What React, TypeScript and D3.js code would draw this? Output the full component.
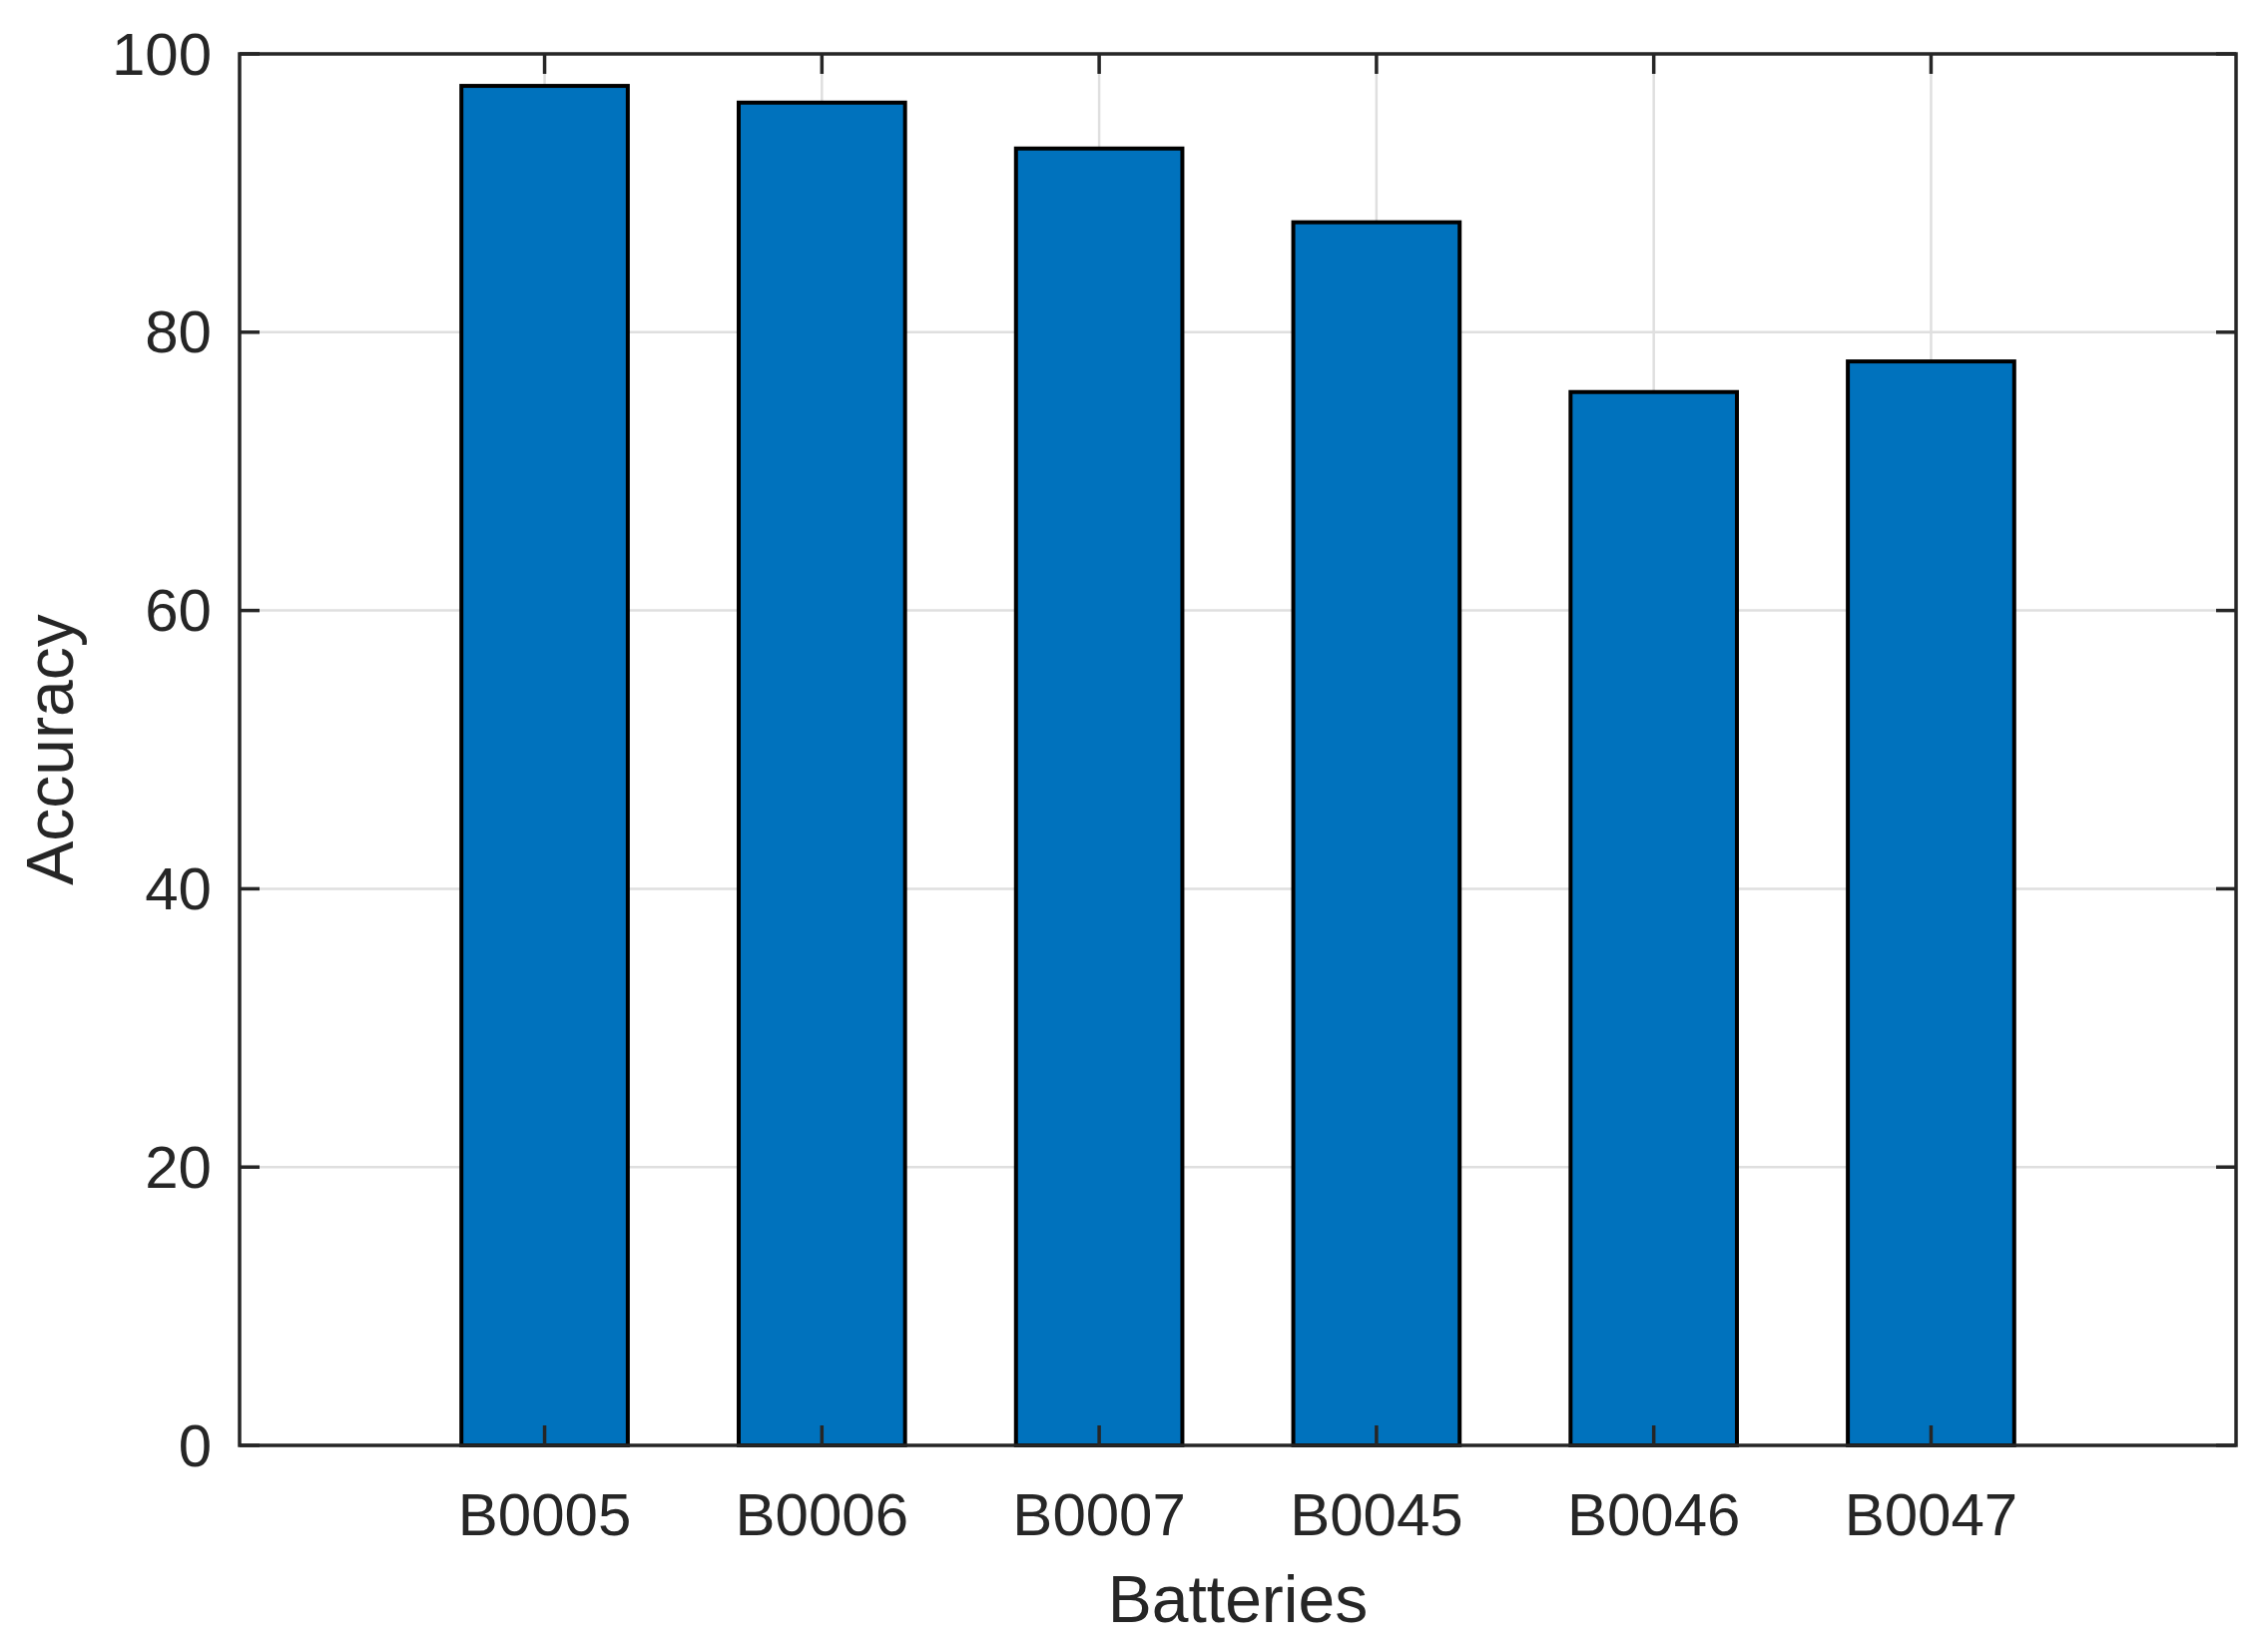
import React from "react";
import * as d3 from "d3";

const categories = ["B0005", "B0006", "B0007", "B0045", "B0046", "B0047"];
const accuracy = [97.7, 96.5, 93.2, 87.9, 75.7, 77.9];
const yTicks = [0, 20, 40, 60, 80, 100];

const W = 2272;
const H = 1654;
const L = 240, R = 2240, T = 54, B = 1448;
const FONT = "'Liberation Sans', Arial, Helvetica, sans-serif";
const AX = "#262626";

export default function App() {
  const idx = categories.map((_, i) => i + 1);
  const x = d3.scaleLinear().domain([-0.1, 7.1]).range([L, R]);
  const y = d3.scaleLinear().domain([0, 100]).range([B, T]);
  const bw = (x(1.6) - x(1)) ; // bar width 0.6
  const tick = 20;
  return (
    <svg width={W} height={H} style={{ position: "absolute", left: 0, top: 0, background: "#fff" }}>
      <rect x={0} y={0} width={W} height={H} fill="#fff" />
      {/* grid */}
      <g stroke="#dfdfdf" strokeWidth={2.5}>
        {yTicks.map((t) => (
          <line key={"gy" + t} x1={L} x2={R} y1={y(t)} y2={y(t)} />
        ))}
        {idx.map((i) => (
          <line key={"gx" + i} x1={x(i)} x2={x(i)} y1={T} y2={B} />
        ))}
      </g>
      {/* bars */}
      <g>
        {accuracy.map((v, i) => (
          <rect
            key={categories[i]}
            x={x(i + 1) - bw / 2}
            y={y(v)}
            width={bw}
            height={y(0) - y(v)}
            fill="#0072bd"
            stroke="#000"
            strokeWidth={4}
          />
        ))}
      </g>
      {/* axes box and ticks */}
      <g stroke={AX} strokeWidth={3.5} fill="none">
        <rect x={L} y={T} width={R - L} height={B - T} />
        {yTicks.map((t) => (
          <g key={"ty" + t}>
            <line x1={L} x2={L + tick} y1={y(t)} y2={y(t)} />
            <line x1={R} x2={R - tick} y1={y(t)} y2={y(t)} />
          </g>
        ))}
        {idx.map((i) => (
          <g key={"tx" + i}>
            <line x1={x(i)} x2={x(i)} y1={B} y2={B - tick} />
            <line x1={x(i)} x2={x(i)} y1={T} y2={T + tick} />
          </g>
        ))}
      </g>
      {/* tick labels */}
      <g fontFamily={FONT} fontSize={60} fill={AX}>
        {yTicks.map((t) => (
          <text key={"ly" + t} x={L - 28} y={y(t)} textAnchor="end" dominantBaseline="central">
            {t}
          </text>
        ))}
        {categories.map((c, i) => (
          <text key={"lx" + c} x={x(i + 1)} y={1538} textAnchor="middle">
            {c}
          </text>
        ))}
      </g>
      {/* axis labels */}
      <text x={(L + R) / 2} y={1625} textAnchor="middle" fontFamily={FONT} fontSize={66} fill={AX}>
        Batteries
      </text>
      <text
        transform={`translate(73, ${(T + B) / 2}) rotate(-90)`}
        textAnchor="middle"
        fontFamily={FONT}
        fontSize={66}
        fill={AX}
      >
        Accuracy
      </text>
    </svg>
  );
}
